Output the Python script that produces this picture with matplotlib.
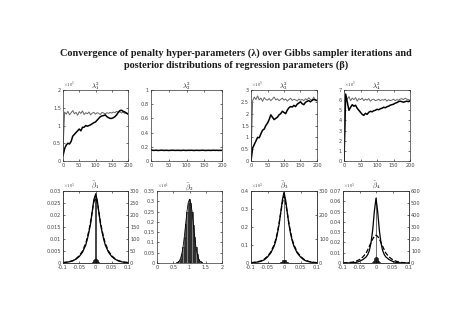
import matplotlib.pyplot as plt
import numpy as np
from matplotlib.ticker import FormatStrFormatter

plt.rcParams['font.family'] = 'DejaVu Sans'
plt.rcParams['mathtext.fontset'] = 'cm'

# Gibbs sampler traces, one value every 5 iterations
iters = np.arange(0, 201, 5)

lam1_gray = [0.30, 1.38, 1.32, 1.40, 1.30, 1.36, 1.42, 1.33, 1.37, 1.29, 1.39,
             1.34, 1.41, 1.31, 1.36, 1.33, 1.38, 1.30, 1.35, 1.37, 1.32, 1.36,
             1.34, 1.31, 1.37, 1.35, 1.33, 1.36, 1.34, 1.37, 1.35, 1.38, 1.36,
             1.40, 1.37, 1.39, 1.35, 1.38, 1.34, 1.36, 1.33]
lam1_black = [0.15, 0.35, 0.45, 0.50, 0.48, 0.55, 0.70, 0.75, 0.80, 0.85, 0.90,
              0.85, 0.95, 0.95, 1.00, 0.98, 1.00, 1.02, 1.05, 1.08, 1.10, 1.15,
              1.20, 1.25, 1.27, 1.28, 1.30, 1.25, 1.22, 1.20, 1.20, 1.22, 1.25,
              1.30, 1.37, 1.42, 1.43, 1.40, 1.38, 1.35, 1.32]

lam2_black = [0.16, 0.15, 0.15, 0.152, 0.148, 0.15, 0.153, 0.149, 0.15, 0.151,
              0.148, 0.15, 0.152, 0.15, 0.149, 0.151, 0.15, 0.148, 0.152, 0.15,
              0.149, 0.151, 0.15, 0.152, 0.148, 0.15, 0.151, 0.149, 0.15, 0.152,
              0.15, 0.148, 0.151, 0.15, 0.149, 0.152, 0.15, 0.151, 0.149, 0.15,
              0.15]

lam3_gray = [0.10, 2.55, 2.70, 2.60, 2.75, 2.58, 2.66, 2.52, 2.68, 2.60, 2.57,
             2.64, 2.55, 2.62, 2.70, 2.58, 2.63, 2.55, 2.60, 2.66, 2.57, 2.62,
             2.53, 2.60, 2.65, 2.56, 2.61, 2.58, 2.54, 2.62, 2.57, 2.60, 2.55,
             2.63, 2.58, 2.67, 2.60, 2.56, 2.70, 2.58, 2.55]
lam3_black = [0.00, 0.55, 0.70, 0.85, 1.00, 0.98, 1.15, 1.30, 1.35, 1.50, 1.60,
              1.75, 1.95, 1.85, 1.75, 1.80, 1.85, 1.95, 2.00, 2.10, 2.05, 2.00,
              2.15, 2.25, 2.30, 2.28, 2.35, 2.30, 2.40, 2.45, 2.50, 2.42, 2.38,
              2.48, 2.52, 2.55, 2.50, 2.56, 2.60, 2.58, 2.55]

lam4_gray = [0.20, 6.30, 6.10, 6.35, 5.95, 6.20, 6.05, 6.25, 5.90, 6.15, 6.05,
             6.20, 5.95, 6.10, 6.00, 6.15, 5.90, 6.05, 6.10, 5.95, 6.00, 6.10,
             5.95, 6.05, 6.00, 6.10, 5.90, 6.05, 5.95, 6.00, 6.10, 5.95, 6.05,
             6.00, 6.10, 6.15, 6.05, 6.20, 6.10, 6.05, 6.00]
lam4_black = [0.00, 6.60, 5.80, 5.00, 5.30, 5.55, 5.40, 5.50, 5.20, 5.00, 4.80,
              4.60, 4.50, 4.70, 4.60, 4.80, 4.90, 4.85, 4.95, 5.00, 5.10, 5.05,
              5.15, 5.20, 5.30, 5.25, 5.35, 5.40, 5.50, 5.55, 5.60, 5.70, 5.75,
              5.85, 5.90, 5.85, 5.80, 5.85, 5.90, 5.85, 5.90]

# posterior densities (right axis) on a common grid
dens_x = [-0.1, -0.09, -0.08, -0.07, -0.06, -0.05, -0.04, -0.03, -0.025, -0.02,
          -0.015, -0.01, -0.005, 0.0, 0.005, 0.01, 0.015, 0.02, 0.025, 0.03,
          0.04, 0.05, 0.06, 0.07, 0.08, 0.09, 0.1]
b1_solid = [1.5, 3, 5, 9, 16, 27, 45, 75, 100, 130, 165, 215, 265, 285, 265,
            215, 165, 130, 100, 75, 45, 27, 16, 9, 5, 3, 1.5]
b1_dashed = [2, 3, 6, 10, 18, 30, 50, 82, 107, 137, 172, 215, 255, 270, 255,
             215, 172, 137, 107, 82, 50, 30, 18, 10, 6, 3, 2]
b3_solid = [1, 2, 4, 7, 13, 25, 42, 70, 92, 122, 160, 210, 262, 295, 262, 210,
            160, 122, 92, 70, 42, 25, 13, 7, 4, 2, 1]
b3_dashed = [1.5, 3, 5, 9, 16, 28, 46, 76, 98, 128, 165, 208, 250, 280, 250,
             208, 165, 128, 98, 76, 46, 28, 16, 9, 5, 3, 1.5]
b4_solid = [0, 0, 1, 2, 5, 14, 28, 50, 70, 105, 170, 276, 430, 540, 430, 276,
            170, 105, 70, 50, 28, 14, 5, 2, 1, 0, 0]
b4_dashed = [1, 2, 4, 8, 16, 28, 50, 82, 110, 140, 172, 200, 222, 232, 222,
             200, 172, 140, 110, 82, 50, 28, 16, 8, 4, 2, 1]

# sampled beta histograms (left axis)
spike_x = [-0.012, -0.01, -0.008, -0.006, -0.004, -0.002, 0.0, 0.002, 0.004,
           0.006, 0.008, 0.01, 0.012]
b1_hist = [0.0002, 0.0004, 0.0007, 0.0011, 0.0015, 0.0019, 0.0290, 0.0019,
           0.0015, 0.0011, 0.0007, 0.0004, 0.0002]
b3_hist = [0.002, 0.004, 0.007, 0.011, 0.015, 0.019, 0.390, 0.019, 0.015,
           0.011, 0.007, 0.004, 0.002]
b4_hist = [0.0004, 0.0010, 0.0020, 0.0032, 0.0045, 0.0058, 0.0640, 0.0058,
           0.0045, 0.0032, 0.0020, 0.0010, 0.0004]

b2_x = [0.6, 0.64, 0.68, 0.72, 0.76, 0.8, 0.84, 0.88, 0.92, 0.96, 1.0, 1.04,
        1.08, 1.12, 1.16, 1.2, 1.24, 1.28, 1.32, 1.36, 1.4]
b2_hist = [0.0012, 0.0034, 0.0088, 0.020, 0.042, 0.077, 0.127, 0.188, 0.248,
           0.293, 0.310, 0.291, 0.250, 0.186, 0.128, 0.076, 0.043, 0.019,
           0.009, 0.0033, 0.0012]

tick_fs = 3.6
lab_col = '0.25'


def style(ax, xlim, xticks, ylim, yticks, right=True):
    ax.set_xlim(*xlim)
    ax.set_ylim(*ylim)
    ax.set_xticks(xticks)
    ax.set_yticks(yticks)
    ax.xaxis.set_major_formatter(FormatStrFormatter('%g'))
    ax.yaxis.set_major_formatter(FormatStrFormatter('%g'))
    ax.tick_params(direction='in', length=1.5, width=0.4, labelsize=tick_fs,
                   labelcolor=lab_col, pad=1.5, top=True, right=right)
    for s in ax.spines.values():
        s.set_linewidth(0.5)
        s.set_color('0.2')


def exponent(ax, txt):
    ax.text(0.0, 1.005, r'$\times 10^{%s}$' % txt, transform=ax.transAxes,
            fontsize=3.4, color=lab_col, va='bottom', ha='left')


fig = plt.figure(figsize=(4.74, 3.24), dpi=100)
W, H = 474.0, 324.0


def add_axes(x0, x1, ytop, ybot):
    return fig.add_axes([x0 / W, 1 - ybot / H, (x1 - x0) / W, (ybot - ytop) / H])


fig.text(0.498, 1 - 59.5 / H,
         'Convergence of penalty hyper-parameters (\u03bb) over Gibbs sampler iterations and\n'
         'posterior distributions of regression parameters (\u03b2)',
         ha='center', va='center', fontsize=7.4, fontweight='bold',
         family='Liberation Serif', linespacing=1.35, color='0.1')

it_ticks = [0, 50, 100, 150, 200]

# top row: hyper-parameter traces
ax = add_axes(63, 128, 90, 161)
ax.plot(iters, lam1_gray, color='0.4', lw=0.7)
ax.plot(iters, lam1_black, color='k', lw=1.1)
style(ax, (0, 200), it_ticks, (0, 2), [0, 0.5, 1, 1.5, 2])
exponent(ax, '5')
ax.set_title(r'$\lambda_1^2$', fontsize=5, pad=1.5)

ax = add_axes(151, 222, 90, 161)
ax.plot(iters, lam2_black, color='k', lw=1.1)
style(ax, (0, 200), it_ticks, (0, 1), [0, 0.2, 0.4, 0.6, 0.8, 1])
ax.set_title(r'$\lambda_2^2$', fontsize=5, pad=1.5)

ax = add_axes(251, 317, 90, 161)
ax.plot(iters, lam3_gray, color='0.4', lw=0.7)
ax.plot(iters, lam3_black, color='k', lw=1.1)
style(ax, (0, 200), it_ticks, (0, 3), [0, 0.5, 1, 1.5, 2, 2.5, 3])
exponent(ax, '5')
ax.set_title(r'$\lambda_3^2$', fontsize=5, pad=1.5)

ax = add_axes(344, 410, 90, 161)
ax.plot(iters, lam4_gray, color='0.4', lw=0.7)
ax.plot(iters, lam4_black, color='k', lw=1.1)
style(ax, (0, 200), it_ticks, (0, 7), list(range(8)))
exponent(ax, '5')
ax.set_title(r'$\lambda_4^2$', fontsize=5, pad=1.5)

# bottom row: posterior histograms with density curves
beta_ticks = [-0.1, -0.05, 0, 0.05, 0.1]


def beta_panel(x0, x1, hist, ylim, yticks, solid, dashed, rlim, rticks, name):
    ax = add_axes(x0, x1, 191, 263)
    ax.bar(spike_x, hist, width=0.002, color='0.3', edgecolor='k', linewidth=0.4)
    style(ax, (-0.1, 0.1), beta_ticks, ylim, yticks, right=False)
    exponent(ax, '3')
    ax.set_title(name, fontsize=5, pad=1.5)
    rx = ax.twinx()
    rx.plot(dens_x, solid, color='k', lw=0.9)
    rx.plot(dens_x, dashed, color='k', lw=0.9, ls='--')
    rx.set_ylim(*rlim)
    rx.set_yticks(rticks)
    rx.tick_params(direction='in', length=1.5, width=0.4, labelsize=tick_fs,
                   labelcolor=lab_col, pad=1.5)
    for s in rx.spines.values():
        s.set_linewidth(0.5)
        s.set_color('0.2')
    return ax


beta_panel(63, 128, b1_hist, (0, 0.03),
           [0, 0.005, 0.01, 0.015, 0.02, 0.025, 0.03],
           b1_solid, b1_dashed, (0, 300), [0, 50, 100, 150, 200, 250, 300],
           r'$\bar{\beta}_1$')

ax = add_axes(157, 222, 191, 263)
ax.bar(b2_x, b2_hist, width=0.04, color='0.5', edgecolor='k', linewidth=0.4)
ax.plot(b2_x, b2_hist, color='k', lw=0.6)
style(ax, (0, 2), [0, 0.5, 1, 1.5, 2], (0, 0.35),
      [0, 0.05, 0.1, 0.15, 0.2, 0.25, 0.3, 0.35])
exponent(ax, '1')
ax.set_title(r'$\bar{\beta}_2$', fontsize=5, pad=1.5)

beta_panel(251, 317, b3_hist, (0, 0.4), [0, 0.1, 0.2, 0.3, 0.4],
           b3_solid, b3_dashed, (0, 300), [0, 100, 200, 300],
           r'$\bar{\beta}_3$')

beta_panel(343, 409, b4_hist, (0, 0.07),
           [0, 0.01, 0.02, 0.03, 0.04, 0.05, 0.06, 0.07],
           b4_solid, b4_dashed, (0, 600), [0, 100, 200, 300, 400, 500, 600],
           r'$\bar{\beta}_4$')

fig.savefig('out.png', dpi=100)
